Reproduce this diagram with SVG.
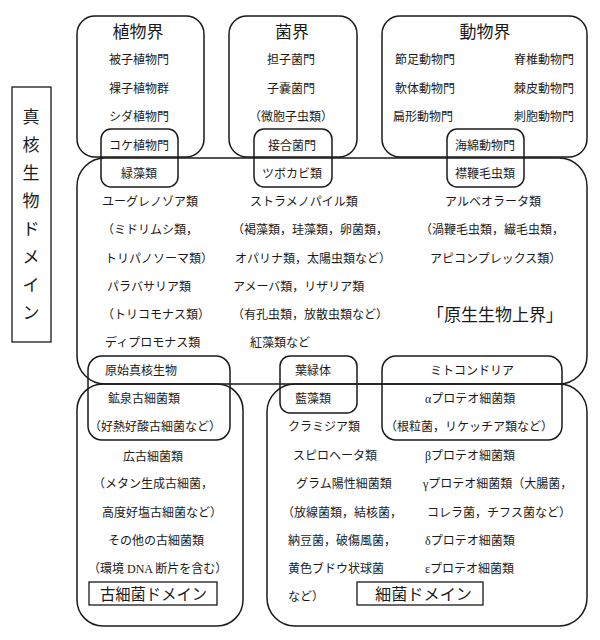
<svg xmlns="http://www.w3.org/2000/svg" width="600" height="640" viewBox="0 0 600 640">
<style>
.b{fill:none;stroke:#1a1a1a;stroke-width:1.5}
.r{fill:none;stroke:#1a1a1a;stroke-width:1.3}
text{font-family:"Liberation Serif","Noto Sans CJK JP",serif;fill:#1a1a1a;font-size:12px}
.h{font-size:17px}
.d{font-size:16px}
.c{text-anchor:middle}
.e{text-anchor:end}
</style>
<rect width="600" height="640" fill="#fff"/>
<g id="eukaryote-domain">
<rect class="r" x="12" y="87" width="39" height="255"/>
<text class="h c" x="31" y="123">真</text>
<text class="h c" x="31" y="151">核</text>
<text class="h c" x="31" y="179">生</text>
<text class="h c" x="31" y="207">物</text>
<text class="h c" x="31" y="235">ド</text>
<text class="h c" x="31" y="263">メ</text>
<text class="h c" x="31" y="291">イ</text>
<text class="h c" x="31" y="319">ン</text>
</g>
<g id="plants">
<rect class="b" x="77" y="16" width="127" height="141" rx="18"/>
<text class="h c" x="138" y="38">植物界</text>
<text class="c" x="139" y="64">被子植物門</text>
<text class="c" x="139" y="93">裸子植物群</text>
<text class="c" x="139" y="121">シダ植物門</text>
</g>
<g id="fungi">
<rect class="b" x="229" y="16" width="128" height="141" rx="18"/>
<text class="h c" x="292" y="38">菌界</text>
<text class="c" x="291" y="64">担子菌門</text>
<text class="c" x="291" y="93">子嚢菌門</text>
<text class="c" x="291" y="121">（微胞子虫類）</text>
</g>
<g id="animals">
<rect class="b" x="382" y="16" width="205" height="141" rx="18"/>
<text class="h c" x="485" y="38">動物界</text>
<text x="395" y="64">節足動物門</text>
<text class="e" x="574" y="64">脊椎動物門</text>
<text x="395" y="93">軟体動物門</text>
<text class="e" x="574" y="93">棘皮動物門</text>
<text x="393" y="121">扁形動物門</text>
<text class="e" x="574" y="121">刺胞動物門</text>
</g>
<g id="protists">
<rect class="b" x="77" y="158" width="510" height="226" rx="28"/>
<text x="102" y="206">ユーグレノゾア類</text>
<text x="102" y="234">（ミドリムシ類，</text>
<text x="105" y="263">トリパノソーマ類）</text>
<text x="107" y="291">パラバサリア類</text>
<text x="102" y="319">（トリコモナス類）</text>
<text x="105" y="347">ディプロモナス類</text>
<text x="250" y="206">ストラメノパイル類</text>
<text x="232" y="234">（褐藻類，珪藻類，卵菌類，</text>
<text x="235" y="263">オパリナ類，太陽虫類など）</text>
<text x="233" y="291">アメーバ類，リザリア類</text>
<text x="232" y="319">（有孔虫類，放散虫類など）</text>
<text x="250" y="347">紅藻類など</text>
<text x="445" y="206">アルベオラータ類</text>
<text x="420" y="234">（渦鞭毛虫類，繊毛虫類，</text>
<text x="430" y="263">アピコンプレックス類）</text>
<text class="h" x="427" y="321">「原生生物上界」</text>
</g>
<g id="moss-green-algae">
<rect class="b" x="101" y="129" width="77" height="58" rx="10"/>
<text class="c" x="139" y="150">コケ植物門</text>
<text class="c" x="139" y="178">緑藻類</text>
</g>
<g id="zygomycota-chytrid">
<rect class="b" x="254" y="129" width="78" height="58" rx="10"/>
<text class="c" x="292" y="150">接合菌門</text>
<text class="c" x="292" y="178">ツボカビ類</text>
</g>
<g id="sponge-choanoflagellate">
<rect class="b" x="447" y="129" width="77" height="58" rx="10"/>
<text class="c" x="485" y="150">海綿動物門</text>
<text class="c" x="485" y="178">襟鞭毛虫類</text>
</g>
<g id="archaea-domain">
<rect class="b" x="77" y="384" width="166" height="242" rx="26"/>
<text x="123" y="461">広古細菌類</text>
<text x="93" y="488">（メタン生成古細菌，</text>
<text x="102" y="517">高度好塩古細菌など）</text>
<text x="108" y="545">その他の古細菌類</text>
<text x="88" y="573">（環境 DNA 断片を含む）</text>
<rect class="r" x="89" y="582" width="128" height="23"/>
<text class="d" x="100" y="600" textLength="107" lengthAdjust="spacingAndGlyphs">古細菌ドメイン</text>
</g>
<g id="primitive-eukaryote">
<rect class="b" x="88" y="356" width="142" height="84" rx="14"/>
<text x="105" y="375">原始真核生物</text>
<text x="108" y="403">鉱泉古細菌類</text>
<text x="89" y="431">（好熱好酸古細菌など）</text>
</g>
<g id="bacteria-domain">
<rect class="b" x="267" y="384" width="320" height="242" rx="28"/>
<text x="288" y="431">クラミジア類</text>
<text x="293" y="460">スピロヘータ類</text>
<text x="296" y="488">グラム陽性細菌類</text>
<text x="282" y="517">（放線菌類，結核菌，</text>
<text x="288" y="545">納豆菌，破傷風菌，</text>
<text x="288" y="573">黄色ブドウ状球菌</text>
<text x="288" y="601">など）</text>
<text x="425" y="460">βプロテオ細菌類</text>
<text x="423" y="488">γプロテオ細菌類（大腸菌，</text>
<text x="427" y="517">コレラ菌，チフス菌など）</text>
<text x="425" y="545">δプロテオ細菌類</text>
<text x="425" y="573">εプロテオ細菌類</text>
<rect class="r" x="357" y="582" width="126" height="23"/>
<text class="d" x="375" y="600" textLength="97" lengthAdjust="spacingAndGlyphs">細菌ドメイン</text>
</g>
<g id="chloroplast">
<rect class="b" x="280" y="356" width="77" height="57" rx="10"/>
<text x="295" y="375">葉緑体</text>
<text x="295" y="403">藍藻類</text>
</g>
<g id="mitochondria">
<rect class="b" x="382" y="356" width="180" height="84" rx="14"/>
<text class="c" x="472" y="375" font-size="11">ミトコンドリア</text>
<text x="425" y="403">αプロテオ細菌類</text>
<text x="385" y="431">（根粒菌，リケッチア類など）</text>
</g>
<g id="connectors"/>
</svg>
